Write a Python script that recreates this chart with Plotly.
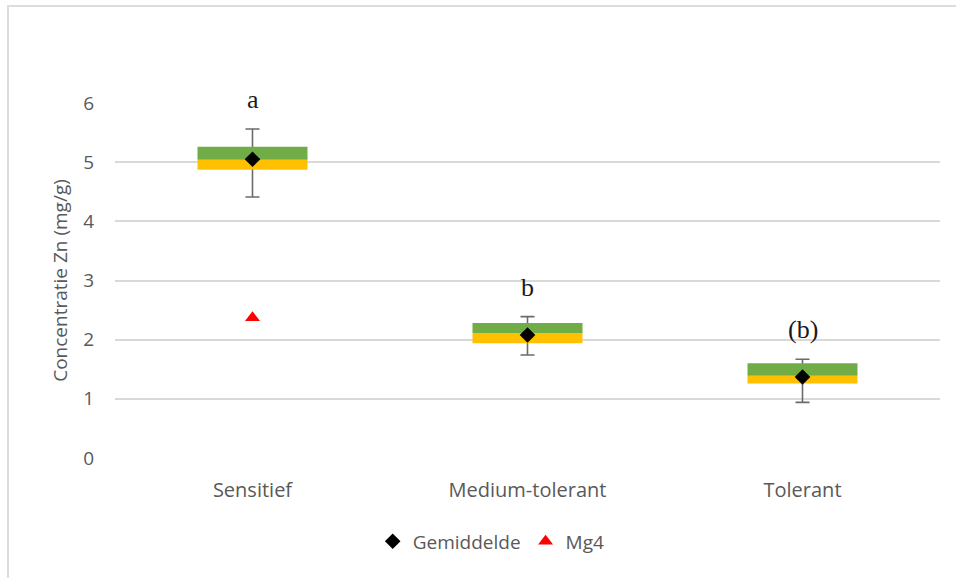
import plotly.graph_objects as go

# Zn concentration per tolerance class (mg/g)
categories = ["Sensitief", "Medium-tolerant", "Tolerant"]
minimum = [4.41, 1.74, 0.94]
q1 = [4.87, 1.94, 1.26]
median = [5.04, 2.11, 1.39]
q3 = [5.26, 2.28, 1.60]
maximum = [5.56, 2.39, 1.67]
mean = [5.05, 2.08, 1.37]

# single Mg4 sample (Sensitief group)
mg4_category = ["Sensitief"]
mg4_value = [2.37]

# significance letters
group_letters = ["a", "b", "(b)"]

y_ticks = [0, 1, 2, 3, 4, 5, 6]
Y_RANGE = [0, 6]

GREY_TEXT = "#595959"
GRID = "#d9d9d9"
FONT = "Open Sans"

xpos = list(range(len(categories)))
xpos_mg4 = [categories.index(c) for c in mg4_category]

fig = go.Figure()

# whiskers (min-max), drawn first so the boxes cover them
fig.add_trace(go.Bar(
    x=xpos, y=mean, width=0.4,
    marker=dict(color="rgba(0,0,0,0)", line=dict(width=0)),
    error_y=dict(type="data", symmetric=False,
                 array=[mx - m for mx, m in zip(maximum, mean)],
                 arrayminus=[m - mn for m, mn in zip(mean, minimum)],
                 color="#6b6b6b", thickness=1.6, width=7),
    showlegend=False, hoverinfo="skip",
))
# lower half of the box: Q1 -> median
fig.add_trace(go.Bar(
    x=xpos, y=[m - a for m, a in zip(median, q1)], base=q1, width=0.4,
    marker=dict(color="#FFC000", line=dict(width=0)),
    showlegend=False, hoverinfo="skip",
))
# upper half of the box: median -> Q3
fig.add_trace(go.Bar(
    x=xpos, y=[b - m for b, m in zip(q3, median)], base=median, width=0.4,
    marker=dict(color="#70AD47", line=dict(width=0)),
    showlegend=False, hoverinfo="skip",
))
fig.add_trace(go.Scatter(
    x=xpos, y=mean, mode="markers", name="Gemiddelde",
    marker=dict(symbol="diamond", size=12, color="black"),
))
fig.add_trace(go.Scatter(
    x=xpos_mg4, y=mg4_value, mode="markers", name="Mg4",
    marker=dict(symbol="triangle-up", size=13, color="#FF0000"),
))

# letters sit half a unit above each whisker; placed in paper space so the
# top one is not hidden outside the y range
for i, letter in enumerate(group_letters):
    y_val = maximum[i] + 0.5
    fig.add_annotation(
        x=xpos[i], xref="x", yref="paper",
        y=(y_val - Y_RANGE[0]) / (Y_RANGE[1] - Y_RANGE[0]),
        text=letter, showarrow=False,
        font=dict(family="Liberation Serif", size=26, color="#1a1a1a"),
        xanchor="center", yanchor="middle",
    )

# light frame around the chart area
fig.add_shape(type="rect", xref="paper", yref="paper",
              x0=-0.1297, x1=1.03, y0=-0.4, y1=1.273,
              line=dict(color="#dcdcdc", width=2), layer="below")

fig.update_layout(
    width=956, height=578,
    margin=dict(l=115, r=16, t=103, b=120),
    paper_bgcolor="white", plot_bgcolor="white",
    barmode="overlay",
    font=dict(family=FONT, color=GREY_TEXT, size=18),
    legend=dict(orientation="h", x=0.456, xanchor="center", y=-0.235, yanchor="middle",
                font=dict(family=FONT, size=19, color=GREY_TEXT),
                itemwidth=30, tracegroupgap=0),
    xaxis=dict(range=[-0.5, 2.5], tickmode="array", tickvals=xpos, ticktext=categories,
               showgrid=False, zeroline=False, showline=False, ticks="",
               ticklabelstandoff=18, tickfont=dict(size=20)),
    yaxis=dict(range=Y_RANGE, tickmode="array", tickvals=y_ticks,
               showgrid=True, gridcolor=GRID, gridwidth=1.5, zeroline=False,
               showline=False, ticks="", ticklabelstandoff=20,
               tickfont=dict(size=19),
               title=dict(text="Concentratie Zn (mg/g)", standoff=10,
                          font=dict(family=FONT, size=19, color=GREY_TEXT))),
)

fig.write_html("out.html")
